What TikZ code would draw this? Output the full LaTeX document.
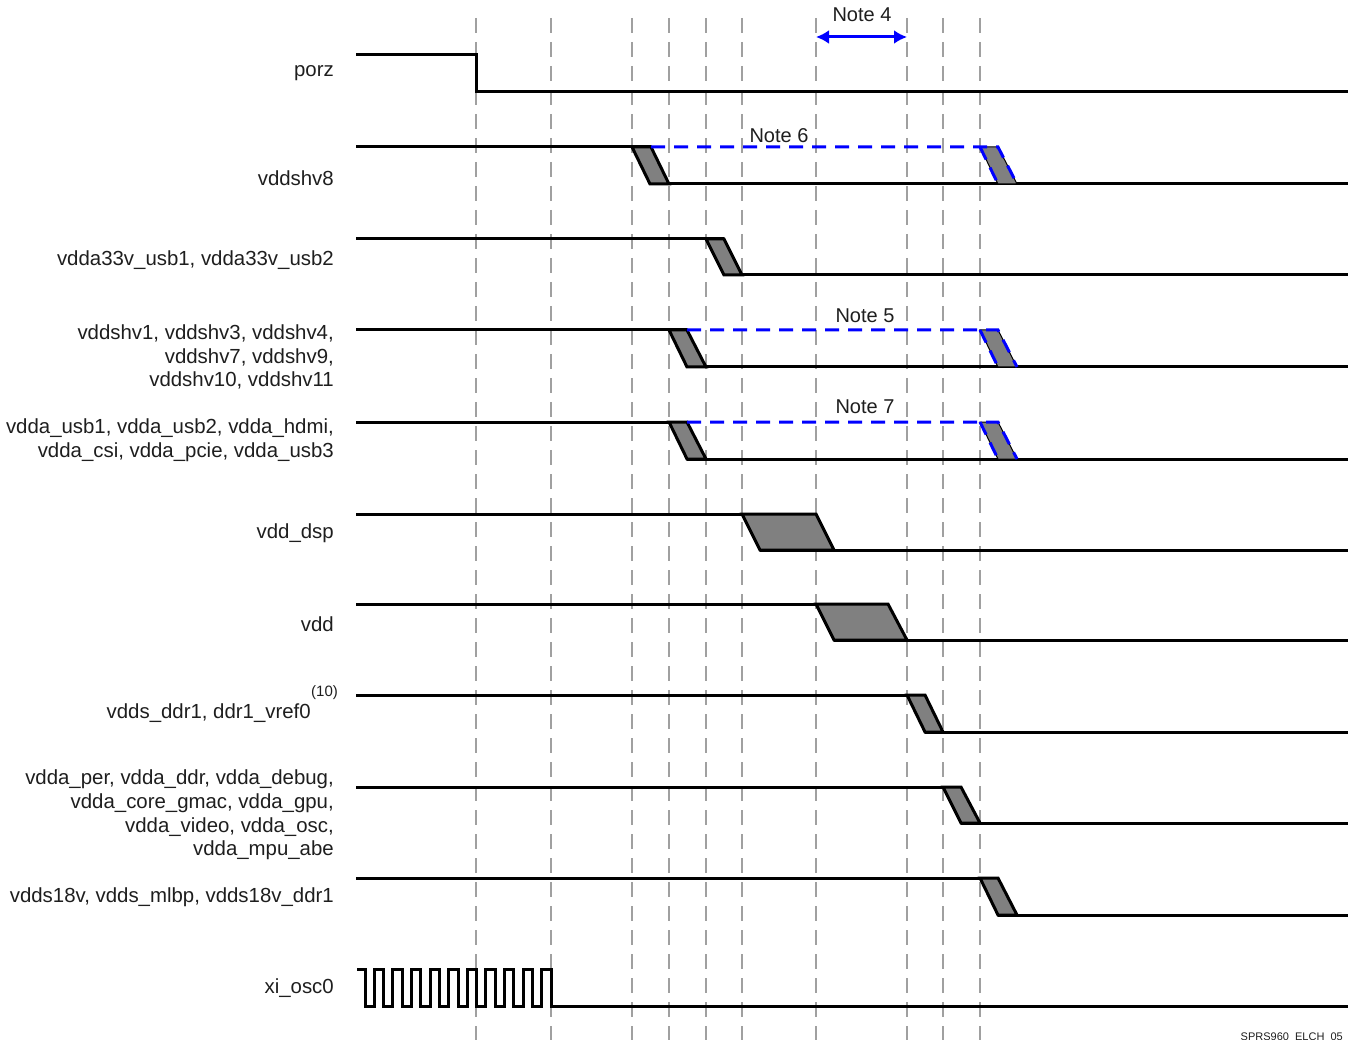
\documentclass[tikz,border=0pt]{standalone}
\usepackage{fontspec}
\setmainfont{Liberation Sans}
\usepackage{xcolor}
\usetikzlibrary{arrows.meta,positioning}
\definecolor{gridgray}{RGB}{160,160,160}
\definecolor{edgegray}{RGB}{128,128,128}
\definecolor{txtgray}{RGB}{30,30,30}

\begin{document}
\begin{tikzpicture}[
  x=1pt, y=-1pt,
  sig/.style={draw=black, line width=3pt, line join=miter},
  gridline/.style={draw=gridgray, line width=1.6pt, dash pattern=on 15pt off 9pt},
  edgebox/.style={fill=edgegray, draw=black, line width=3pt, line join=miter},
  softbox/.style={fill=edgegray, draw=black, line width=1pt},
  notedash/.style={draw=blue, line width=3pt, dash pattern=on 14pt off 9pt},
  notearr/.style={{Latex[length=13pt,width=14pt]}-{Latex[length=13pt,width=14pt]}, draw=blue, line width=3pt},
  siglabel/.style={anchor=east, align=right, inner sep=0pt, text=txtgray,
                   font=\fontsize{20.4}{23.6}\selectfont},
  notelabel/.style={inner sep=0pt, text=txtgray, font=\fontsize{20}{22}\selectfont},
  suplabel/.style={inner sep=0pt, text=txtgray, font=\fontsize{15}{17}\selectfont},
  figid/.style={anchor=base east, inner sep=0pt, text=txtgray, font=\fontsize{11}{12}\selectfont}
]
  \useasboundingbox (0,0) rectangle (1352,1040);

  % --- Time marks: dashed verticals ---
  \foreach \tx in {476,551,632,669,706,742,816,907,943,980}
    \draw[gridline] (\tx,18) -- (\tx,1040);

  % --- Signal names ---
  \node[siglabel] (lporz)   at (334,73)  {porz};
  \node[siglabel] (lshv8)   at (334,178) {vddshv8};
  \node[siglabel] (lusb33)  at (334,260) {vdda33v\_usb1, vdda33v\_usb2};
  \node[siglabel] (lshv)    at (334,357) {vddshv1, vddshv3, vddshv4,\\vddshv7, vddshv9,\\vddshv10, vddshv11};
  \node[siglabel] (lusb)    at (334,440) {vdda\_usb1, vdda\_usb2, vdda\_hdmi,\\vdda\_csi, vdda\_pcie, vdda\_usb3};
  \node[siglabel] (ldsp)    at (334,533) {vdd\_dsp};
  \node[siglabel] (lvdd)    at (334,624) {vdd};
  \node[siglabel] (lddr)    at (311,713) {vdds\_ddr1, ddr1\_vref0};
  \node[suplabel, anchor=south west] (lddrnote) at ([xshift=0pt, yshift=4pt]lddr.north east) {(10)};
  \node[siglabel] (lper)    at (334,815) {vdda\_per, vdda\_ddr, vdda\_debug,\\vdda\_core\_gmac, vdda\_gpu,\\vdda\_video, vdda\_osc,\\vdda\_mpu\_abe};
  \node[siglabel] (l18v)    at (334,897) {vdds18v, vdds\_mlbp, vdds18v\_ddr1};
  \node[siglabel] (losc)    at (334,988) {xi\_osc0};

  % --- porz ---
  \draw[sig] (356,55) -- (476,55) -- (476,92) -- (1348,92);

  % --- vddshv8 (Note 6) ---
  \draw[sig] (356,147) -- (651,147);
  \draw[sig] (650,184) -- (1348,184);
  \filldraw[edgebox] (632,147) -- (651,147) -- (669,184) -- (650,184) -- cycle;
  \filldraw[softbox] (980,147) -- (998,147) -- (1017,184) -- (998,184) -- cycle;
  \draw[notedash] (651,147) -- (998,147) -- (1017,184);
  \draw[notedash] (980,147) -- (998,184);

  % --- vdda33v_usb ---
  \draw[sig] (356,239) -- (724,239);
  \draw[sig] (724,275) -- (1348,275);
  \filldraw[edgebox] (706,239) -- (724,239) -- (742,275) -- (724,275) -- cycle;

  % --- vddshv group (Note 5) ---
  \draw[sig] (356,330) -- (687,330);
  \draw[sig] (687,367) -- (1348,367);
  \filldraw[edgebox] (669,330) -- (687,330) -- (706,367) -- (687,367) -- cycle;
  \filldraw[softbox] (980,330) -- (998,330) -- (1017,367) -- (998,367) -- cycle;
  \draw[notedash] (687,330) -- (998,330) -- (1017,367);
  \draw[notedash] (980,330) -- (998,367);

  % --- vdda_usb group (Note 7) ---
  \draw[sig] (356,422) -- (687,422);
  \draw[sig] (687,459) -- (1348,459);
  \filldraw[edgebox] (669,422) -- (687,422) -- (706,459) -- (687,459) -- cycle;
  \filldraw[softbox] (980,422) -- (998,422) -- (1017,459) -- (998,459) -- cycle;
  \draw[notedash] (687,422) -- (998,422) -- (1017,459);
  \draw[notedash] (980,422) -- (998,459);

  % --- vdd_dsp ---
  \draw[sig] (356,514) -- (742,514);
  \draw[sig] (760,550) -- (1348,550);
  \filldraw[edgebox] (742,514) -- (816,514) -- (834,550) -- (760,550) -- cycle;

  % --- vdd ---
  \draw[sig] (356,604) -- (816,604);
  \draw[sig] (834,640) -- (1348,640);
  \filldraw[edgebox] (816,604) -- (888,604) -- (907,640) -- (834,640) -- cycle;

  % --- vdds_ddr1 ---
  \draw[sig] (356,695) -- (907,695);
  \draw[sig] (925,732) -- (1348,732);
  \filldraw[edgebox] (907,695) -- (925,695) -- (943,732) -- (925,732) -- cycle;

  % --- vdda_per group ---
  \draw[sig] (356,787) -- (943,787);
  \draw[sig] (961,823) -- (1348,823);
  \filldraw[edgebox] (943,787) -- (961,787) -- (980,823) -- (961,823) -- cycle;

  % --- vdds18v ---
  \draw[sig] (356,878) -- (980,878);
  \draw[sig] (998,915) -- (1348,915);
  \filldraw[edgebox] (980,878) -- (998,878) -- (1017,915) -- (998,915) -- cycle;

  % --- xi_osc0: clock, then held low ---
  \draw[sig] (357,969) -- (365,969)
    \foreach \k in {1,...,10} { -- ++(0,37) -- ++(9.3,0) -- ++(0,-37) -- ++(9.3,0) }
    -- ++(0,37) -- (1348,1006);

  % --- Notes ---
  \coordinate (n4a) at (816,37);
  \coordinate (n4b) at (907,37);
  \draw[notearr] (n4a) -- (n4b);
  \node[notelabel] (note4) at (862,15)  {Note 4};
  \node[notelabel] (note6) at (779,136) {Note 6};
  \node[notelabel] (note5) at (865,316) {Note 5};
  \node[notelabel] (note7) at (865,407) {Note 7};

  \node[figid] (figid) at (1343,1040) {SPRS960\_ELCH\_05};
\end{tikzpicture}
\end{document}
